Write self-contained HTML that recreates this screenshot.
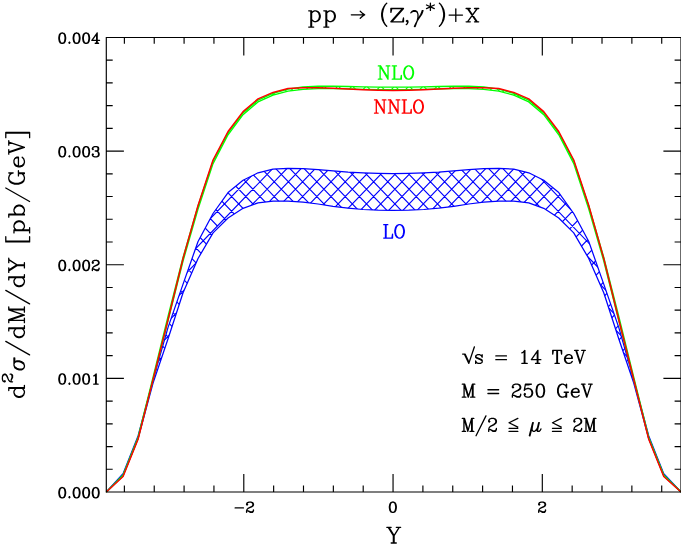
<!DOCTYPE html>
<html><head><meta charset="utf-8"><title>pp to (Z,gamma*)+X rapidity distribution</title>
<style>html,body{margin:0;padding:0;background:#fff;font-family:"Liberation Sans",sans-serif}svg{display:block}</style>
</head><body>
<svg width="681" height="545" viewBox="0 0 681 545">
<rect width="681" height="545" fill="#fff"/>
<defs>
<clipPath id="cb"><polygon points="106.3,492 123.05,473.7 138.05,436 153.05,380 168.05,327.4 183.05,284.1 198.05,241.5 213.05,213.5 228.05,192.6 243.05,180.3 258.05,172.8 273.05,169.1 288.05,168.3 303.05,168.7 318.05,169.6 333.05,170.9 348.05,172.1 363.05,172.9 378.05,173.4 393.05,173.6 408.75,173.4 423.75,172.9 438.75,172.1 453.75,170.9 468.75,169.6 483.75,168.7 498.75,168.3 513.75,169.1 528.75,172.8 543.75,180.3 558.75,192.6 573.75,213.5 588.75,241.5 603.75,284.1 618.75,327.4 633.75,380 648.75,436 663.75,473.7 681,492 681,492 663.75,475.5 648.75,438.5 633.75,383 618.75,338.7 603.75,292.8 588.75,258.5 573.75,232.9 558.75,218 543.75,208.3 528.75,202.8 513.75,201.2 498.75,201.2 483.75,202.2 468.75,204 453.75,206.3 438.75,208.2 423.75,209.5 408.75,210.2 393.05,210.4 378.05,210.2 363.05,209.5 348.05,208.2 333.05,206.3 318.05,204 303.05,202.2 288.05,201.2 273.05,201.2 258.05,202.8 243.05,208.3 228.05,218 213.05,232.9 198.05,258.5 183.05,292.8 168.05,338.7 153.05,383 138.05,438.5 123.05,475.5 106.3,492"/></clipPath>
<clipPath id="cg"><polygon points="106.3,492 123.05,474.9 138.05,437.4 153.05,377.5 168.05,316.5 183.05,257.5 198.05,206 213.05,161.2 228.05,132.8 243.05,112.9 258.05,100.1 273.05,93.4 288.05,89.1 303.05,86.9 318.05,86.1 333.05,86.2 348.05,86.5 363.05,86.85 378.05,87.1 393.05,87.15 408.75,87.1 423.75,86.85 438.75,86.5 453.75,86.2 468.75,86.1 483.75,86.9 498.75,89.1 513.75,93.4 528.75,100.1 543.75,112.9 558.75,132.8 573.75,161.2 588.75,206 603.75,257.5 618.75,316.5 633.75,377.5 648.75,437.4 663.75,474.9 681,492 681,492 663.75,475.7 648.75,438.6 633.75,380.1 618.75,320.5 603.75,261 588.75,209.1 573.75,163.6 558.75,134.8 543.75,114.7 528.75,101.9 513.75,95.2 498.75,91.1 483.75,89.4 468.75,88.6 453.75,88.6 438.75,88.9 423.75,89.3 408.75,89.6 393.05,89.7 378.05,89.6 363.05,89.3 348.05,88.9 333.05,88.6 318.05,88.6 303.05,89.4 288.05,91.1 273.05,95.2 258.05,101.9 243.05,114.7 228.05,134.8 213.05,163.6 198.05,209.1 183.05,261 168.05,320.5 153.05,380.1 138.05,438.6 123.05,475.7 106.3,492"/></clipPath>
</defs>
<g fill="none" stroke="#00f" stroke-width="1.15" stroke-linejoin="round">
<path clip-path="url(#cb)" d="M-215.36 160L111.88 500M-201.16 160L126.08 500M-186.96 160L140.28 500M-172.76 160L154.48 500M-158.56 160L168.68 500M-144.36 160L182.88 500M-130.16 160L197.08 500M-115.96 160L211.28 500M-101.76 160L225.48 500M-87.56 160L239.68 500M-73.36 160L253.88 500M-59.16 160L268.08 500M-44.96 160L282.28 500M-30.76 160L296.48 500M-16.56 160L310.68 500M-2.36 160L324.88 500M11.84 160L339.08 500M26.04 160L353.28 500M40.24 160L367.48 500M54.44 160L381.68 500M68.64 160L395.88 500M82.84 160L410.08 500M110.56 160L-216.68 500M97.04 160L424.28 500M124.76 160L-202.48 500M111.24 160L438.48 500M138.96 160L-188.28 500M125.44 160L452.68 500M153.16 160L-174.08 500M139.64 160L466.88 500M167.36 160L-159.88 500M153.84 160L481.08 500M181.56 160L-145.68 500M168.04 160L495.28 500M195.76 160L-131.48 500M182.24 160L509.48 500M209.96 160L-117.28 500M196.44 160L523.68 500M224.16 160L-103.08 500M210.64 160L537.88 500M238.36 160L-88.88 500M224.84 160L552.08 500M252.56 160L-74.68 500M239.04 160L566.28 500M266.76 160L-60.48 500M253.24 160L580.48 500M280.96 160L-46.28 500M267.44 160L594.68 500M295.16 160L-32.08 500M281.64 160L608.88 500M309.36 160L-17.88 500M295.84 160L623.08 500M323.56 160L-3.68 500M310.04 160L637.28 500M337.76 160L10.52 500M324.24 160L651.48 500M351.96 160L24.72 500M338.44 160L665.68 500M366.16 160L38.92 500M352.64 160L679.88 500M380.36 160L53.12 500M366.84 160L694.08 500M394.56 160L67.32 500M381.04 160L708.28 500M408.76 160L81.52 500M395.24 160L722.48 500M422.96 160L95.72 500M409.44 160L736.68 500M437.16 160L109.92 500M423.64 160L750.88 500M451.36 160L124.12 500M437.84 160L765.08 500M465.56 160L138.32 500M452.04 160L779.28 500M479.76 160L152.52 500M466.24 160L793.48 500M493.96 160L166.72 500M480.44 160L807.68 500M508.16 160L180.92 500M494.64 160L821.88 500M522.36 160L195.12 500M508.84 160L836.08 500M536.56 160L209.32 500M523.04 160L850.28 500M550.76 160L223.52 500M537.24 160L864.48 500M564.96 160L237.72 500M551.44 160L878.68 500M579.16 160L251.92 500M565.64 160L892.88 500M593.36 160L266.12 500M579.84 160L907.08 500M607.56 160L280.32 500M594.04 160L921.28 500M621.76 160L294.52 500M608.24 160L935.48 500M635.96 160L308.72 500M622.44 160L949.68 500M650.16 160L322.92 500M636.64 160L963.88 500M664.36 160L337.12 500M650.84 160L978.08 500M678.56 160L351.32 500M665.04 160L992.28 500M692.76 160L365.52 500M679.24 160L1006.48 500M706.96 160L379.72 500M721.16 160L393.92 500M735.36 160L408.12 500M749.56 160L422.32 500M763.76 160L436.52 500M777.96 160L450.72 500M792.16 160L464.92 500M806.36 160L479.12 500M820.56 160L493.32 500M834.76 160L507.52 500M848.96 160L521.72 500M863.16 160L535.92 500M877.36 160L550.12 500M891.56 160L564.32 500M905.76 160L578.52 500M919.96 160L592.72 500M934.16 160L606.92 500M948.36 160L621.12 500M962.56 160L635.32 500M976.76 160L649.52 500M990.96 160L663.72 500M1005.16 160L677.92 500"/>
<polyline stroke-width="1.25" points="106.3,492 123.05,473.7 138.05,436 153.05,380 168.05,327.4 183.05,284.1 198.05,241.5 213.05,213.5 228.05,192.6 243.05,180.3 258.05,172.8 273.05,169.1 288.05,168.3 303.05,168.7 318.05,169.6 333.05,170.9 348.05,172.1 363.05,172.9 378.05,173.4 393.05,173.6 408.75,173.4 423.75,172.9 438.75,172.1 453.75,170.9 468.75,169.6 483.75,168.7 498.75,168.3 513.75,169.1 528.75,172.8 543.75,180.3 558.75,192.6 573.75,213.5 588.75,241.5 603.75,284.1 618.75,327.4 633.75,380 648.75,436 663.75,473.7 681,492"/>
<polyline stroke-width="1.25" points="106.3,492 123.05,475.5 138.05,438.5 153.05,383 168.05,338.7 183.05,292.8 198.05,258.5 213.05,232.9 228.05,218 243.05,208.3 258.05,202.8 273.05,201.2 288.05,201.2 303.05,202.2 318.05,204 333.05,206.3 348.05,208.2 363.05,209.5 378.05,210.2 393.05,210.4 408.75,210.2 423.75,209.5 438.75,208.2 453.75,206.3 468.75,204 483.75,202.2 498.75,201.2 513.75,201.2 528.75,202.8 543.75,208.3 558.75,218 573.75,232.9 588.75,258.5 603.75,292.8 618.75,338.7 633.75,383 648.75,438.5 663.75,475.5 681,492"/>
</g>
<g fill="none" stroke="#0f0" stroke-width="1.1" stroke-linejoin="round">
<path clip-path="url(#cg)" d="M-292.36 80L111.88 500M-278.16 80L126.08 500M-263.96 80L140.28 500M-249.76 80L154.48 500M-235.56 80L168.68 500M-221.36 80L182.88 500M-207.16 80L197.08 500M-192.96 80L211.28 500M-178.76 80L225.48 500M-164.56 80L239.68 500M-150.36 80L253.88 500M-136.16 80L268.08 500M-121.96 80L282.28 500M-107.76 80L296.48 500M-93.56 80L310.68 500M-79.36 80L324.88 500M102.36 80L-301.88 500M-65.16 80L339.08 500M116.56 80L-287.68 500M-50.96 80L353.28 500M130.76 80L-273.48 500M-36.76 80L367.48 500M144.96 80L-259.28 500M-22.56 80L381.68 500M159.16 80L-245.08 500M-8.36 80L395.88 500M173.36 80L-230.88 500M5.84 80L410.08 500M187.56 80L-216.68 500M20.04 80L424.28 500M201.76 80L-202.48 500M34.24 80L438.48 500M215.96 80L-188.28 500M48.44 80L452.68 500M230.16 80L-174.08 500M62.64 80L466.88 500M244.36 80L-159.88 500M76.84 80L481.08 500M258.56 80L-145.68 500M91.04 80L495.28 500M272.76 80L-131.48 500M105.24 80L509.48 500M286.96 80L-117.28 500M119.44 80L523.68 500M301.16 80L-103.08 500M133.64 80L537.88 500M315.36 80L-88.88 500M147.84 80L552.08 500M329.56 80L-74.68 500M162.04 80L566.28 500M343.76 80L-60.48 500M176.24 80L580.48 500M357.96 80L-46.28 500M190.44 80L594.68 500M372.16 80L-32.08 500M204.64 80L608.88 500M386.36 80L-17.88 500M218.84 80L623.08 500M400.56 80L-3.68 500M233.04 80L637.28 500M414.76 80L10.52 500M247.24 80L651.48 500M428.96 80L24.72 500M261.44 80L665.68 500M443.16 80L38.92 500M275.64 80L679.88 500M457.36 80L53.12 500M289.84 80L694.08 500M471.56 80L67.32 500M304.04 80L708.28 500M485.76 80L81.52 500M318.24 80L722.48 500M499.96 80L95.72 500M332.44 80L736.68 500M514.16 80L109.92 500M346.64 80L750.88 500M528.36 80L124.12 500M360.84 80L765.08 500M542.56 80L138.32 500M375.04 80L779.28 500M556.76 80L152.52 500M389.24 80L793.48 500M570.96 80L166.72 500M403.44 80L807.68 500M585.16 80L180.92 500M417.64 80L821.88 500M599.36 80L195.12 500M431.84 80L836.08 500M613.56 80L209.32 500M446.04 80L850.28 500M627.76 80L223.52 500M460.24 80L864.48 500M641.96 80L237.72 500M474.44 80L878.68 500M656.16 80L251.92 500M488.64 80L892.88 500M670.36 80L266.12 500M502.84 80L907.08 500M684.56 80L280.32 500M517.04 80L921.28 500M698.76 80L294.52 500M531.24 80L935.48 500M712.96 80L308.72 500M545.44 80L949.68 500M727.16 80L322.92 500M559.64 80L963.88 500M741.36 80L337.12 500M573.84 80L978.08 500M755.56 80L351.32 500M588.04 80L992.28 500M769.76 80L365.52 500M602.24 80L1006.48 500M783.96 80L379.72 500M616.44 80L1020.68 500M798.16 80L393.92 500M630.64 80L1034.88 500M812.36 80L408.12 500M644.84 80L1049.08 500M826.56 80L422.32 500M659.04 80L1063.28 500M840.76 80L436.52 500M673.24 80L1077.48 500M854.96 80L450.72 500M687.44 80L1091.68 500M869.16 80L464.92 500M883.36 80L479.12 500M897.56 80L493.32 500M911.76 80L507.52 500M925.96 80L521.72 500M940.16 80L535.92 500M954.36 80L550.12 500M968.56 80L564.32 500M982.76 80L578.52 500M996.96 80L592.72 500M1011.16 80L606.92 500M1025.36 80L621.12 500M1039.56 80L635.32 500M1053.76 80L649.52 500M1067.96 80L663.72 500M1082.16 80L677.92 500"/>
<polyline stroke-width="1.4" points="106.3,492 123.05,474.9 138.05,437.4 153.05,377.5 168.05,316.5 183.05,257.5 198.05,206 213.05,161.2 228.05,132.8 243.05,112.9 258.05,100.1 273.05,93.4 288.05,89.1 303.05,86.9 318.05,86.1 333.05,86.2 348.05,86.5 363.05,86.85 378.05,87.1 393.05,87.15 408.75,87.1 423.75,86.85 438.75,86.5 453.75,86.2 468.75,86.1 483.75,86.9 498.75,89.1 513.75,93.4 528.75,100.1 543.75,112.9 558.75,132.8 573.75,161.2 588.75,206 603.75,257.5 618.75,316.5 633.75,377.5 648.75,437.4 663.75,474.9 681,492"/>
<polyline stroke-width="1.3" points="106.3,492 123.05,475.7 138.05,438.6 153.05,380.1 168.05,320.5 183.05,261 198.05,209.1 213.05,163.6 228.05,134.8 243.05,114.7 258.05,101.9 273.05,95.2 288.05,91.1 303.05,89.4 318.05,88.6 333.05,88.6 348.05,88.9 363.05,89.3 378.05,89.6 393.05,89.7 408.75,89.6 423.75,89.3 438.75,88.9 453.75,88.6 468.75,88.6 483.75,89.4 498.75,91.1 513.75,95.2 528.75,101.9 543.75,114.7 558.75,134.8 573.75,163.6 588.75,209.1 603.75,261 618.75,320.5 633.75,380.1 648.75,438.6 663.75,475.7 681,492"/>
</g>
<polyline fill="none" stroke="#f00" stroke-width="1.5" stroke-linejoin="round" points="106.3,492 123.05,476.5 138.05,439.2 153.05,379.5 168.05,319.5 183.05,258.5 198.05,205.5 213.05,160 228.05,131.5 243.05,111.6 258.05,98.9 273.05,92.4 288.05,88.6 303.05,87.7 318.05,87.7 333.05,88.3 348.05,89.1 363.05,89.8 378.05,90.3 393.05,90.5 408.75,90.3 423.75,89.8 438.75,89.1 453.75,88.3 468.75,87.7 483.75,87.7 498.75,88.6 513.75,92.4 528.75,98.9 543.75,111.6 558.75,131.5 573.75,160 588.75,205.5 603.75,258.5 618.75,319.5 633.75,379.5 648.75,439.2 663.75,476.5 681,492"/>
<path fill="none" stroke="#000" stroke-width="1.15" stroke-linecap="butt" d="M106.3 37.45H681V492H106.3ZM124.38 492v-6.4M124.38 37.45v6.4M154.23 492v-6.4M154.23 37.45v6.4M184.09 492v-6.4M184.09 37.45v6.4M213.94 492v-6.4M213.94 37.45v6.4M243.79 492v-18M243.79 37.45v18M273.64 492v-6.4M273.64 37.45v6.4M303.49 492v-6.4M303.49 37.45v6.4M333.35 492v-6.4M333.35 37.45v6.4M363.2 492v-6.4M363.2 37.45v6.4M393.05 492v-18M393.05 37.45v18M422.9 492v-6.4M422.9 37.45v6.4M452.75 492v-6.4M452.75 37.45v6.4M482.61 492v-6.4M482.61 37.45v6.4M512.46 492v-6.4M512.46 37.45v6.4M542.31 492v-18M542.31 37.45v18M572.16 492v-6.4M572.16 37.45v6.4M602.01 492v-6.4M602.01 37.45v6.4M631.87 492v-6.4M631.87 37.45v6.4M661.72 492v-6.4M661.72 37.45v6.4M106.3 469.27h6.4M681 469.27h-6.4M106.3 446.55h6.4M681 446.55h-6.4M106.3 423.82h6.4M681 423.82h-6.4M106.3 401.09h6.4M681 401.09h-6.4M106.3 378.36h17.6M681 378.36h-17.6M106.3 355.63h6.4M681 355.63h-6.4M106.3 332.91h6.4M681 332.91h-6.4M106.3 310.18h6.4M681 310.18h-6.4M106.3 287.45h6.4M681 287.45h-6.4M106.3 264.73h17.6M681 264.73h-17.6M106.3 242h6.4M681 242h-6.4M106.3 219.27h6.4M681 219.27h-6.4M106.3 196.54h6.4M681 196.54h-6.4M106.3 173.81h6.4M681 173.81h-6.4M106.3 151.09h17.6M681 151.09h-17.6M106.3 128.36h6.4M681 128.36h-6.4M106.3 105.63h6.4M681 105.63h-6.4M106.3 82.9h6.4M681 82.9h-6.4M106.3 60.18h6.4M681 60.18h-6.4"/>
<path fill="none" stroke="#000" stroke-width="1.35" stroke-linecap="round" stroke-linejoin="round" d="M61.77 487.57 L60.33 488.06 L59.38 489.52 L58.9 491.96 L58.9 493.42 L59.38 495.85 L60.33 497.31 L61.77 497.8 L62.72 497.8 L64.16 497.31 L65.11 495.85 L65.59 493.42 L65.59 491.96 L65.11 489.52 L64.16 488.06 L62.72 487.57 L61.77 487.57 M61.77 487.57 L60.81 488.06 L60.33 488.55 L59.86 489.52 L59.38 491.96 L59.38 493.42 L59.86 495.85 L60.33 496.83 L60.81 497.31 L61.77 497.8 M62.72 497.8 L63.68 497.31 L64.16 496.83 L64.64 495.85 L65.11 493.42 L65.11 491.96 L64.64 489.52 L64.16 488.55 L63.68 488.06 L62.72 487.57 M69.42 496.83 L68.94 497.31 L69.42 497.8 L69.89 497.31 L69.42 496.83 M76.11 487.57 L74.67 488.06 L73.72 489.52 L73.24 491.96 L73.24 493.42 L73.72 495.85 L74.67 497.31 L76.11 497.8 L77.06 497.8 L78.5 497.31 L79.45 495.85 L79.93 493.42 L79.93 491.96 L79.45 489.52 L78.5 488.06 L77.06 487.57 L76.11 487.57 M76.11 487.57 L75.15 488.06 L74.67 488.55 L74.2 489.52 L73.72 491.96 L73.72 493.42 L74.2 495.85 L74.67 496.83 L75.15 497.31 L76.11 497.8 M77.06 497.8 L78.02 497.31 L78.5 496.83 L78.98 495.85 L79.45 493.42 L79.45 491.96 L78.98 489.52 L78.5 488.55 L78.02 488.06 L77.06 487.57 M85.67 487.57 L84.23 488.06 L83.28 489.52 L82.8 491.96 L82.8 493.42 L83.28 495.85 L84.23 497.31 L85.67 497.8 L86.62 497.8 L88.06 497.31 L89.01 495.85 L89.49 493.42 L89.49 491.96 L89.01 489.52 L88.06 488.06 L86.62 487.57 L85.67 487.57 M85.67 487.57 L84.71 488.06 L84.23 488.55 L83.76 489.52 L83.28 491.96 L83.28 493.42 L83.76 495.85 L84.23 496.83 L84.71 497.31 L85.67 497.8 M86.62 497.8 L87.58 497.31 L88.06 496.83 L88.54 495.85 L89.01 493.42 L89.01 491.96 L88.54 489.52 L88.06 488.55 L87.58 488.06 L86.62 487.57 M95.23 487.57 L93.79 488.06 L92.84 489.52 L92.36 491.96 L92.36 493.42 L92.84 495.85 L93.79 497.31 L95.23 497.8 L96.18 497.8 L97.62 497.31 L98.57 495.85 L99.05 493.42 L99.05 491.96 L98.57 489.52 L97.62 488.06 L96.18 487.57 L95.23 487.57 M95.23 487.57 L94.27 488.06 L93.79 488.55 L93.32 489.52 L92.84 491.96 L92.84 493.42 L93.32 495.85 L93.79 496.83 L94.27 497.31 L95.23 497.8 M96.18 497.8 L97.14 497.31 L97.62 496.83 L98.1 495.85 L98.57 493.42 L98.57 491.96 L98.1 489.52 L97.62 488.55 L97.14 488.06 L96.18 487.57"/>
<path fill="none" stroke="#000" stroke-width="1.35" stroke-linecap="round" stroke-linejoin="round" d="M61.77 373.94 L60.33 374.42 L59.38 375.88 L58.9 378.32 L58.9 379.78 L59.38 382.21 L60.33 383.68 L61.77 384.16 L62.72 384.16 L64.16 383.68 L65.11 382.21 L65.59 379.78 L65.59 378.32 L65.11 375.88 L64.16 374.42 L62.72 373.94 L61.77 373.94 M61.77 373.94 L60.81 374.42 L60.33 374.91 L59.86 375.88 L59.38 378.32 L59.38 379.78 L59.86 382.21 L60.33 383.19 L60.81 383.68 L61.77 384.16 M62.72 384.16 L63.68 383.68 L64.16 383.19 L64.64 382.21 L65.11 379.78 L65.11 378.32 L64.64 375.88 L64.16 374.91 L63.68 374.42 L62.72 373.94 M69.42 383.19 L68.94 383.68 L69.42 384.16 L69.89 383.68 L69.42 383.19 M76.11 373.94 L74.67 374.42 L73.72 375.88 L73.24 378.32 L73.24 379.78 L73.72 382.21 L74.67 383.68 L76.11 384.16 L77.06 384.16 L78.5 383.68 L79.45 382.21 L79.93 379.78 L79.93 378.32 L79.45 375.88 L78.5 374.42 L77.06 373.94 L76.11 373.94 M76.11 373.94 L75.15 374.42 L74.67 374.91 L74.2 375.88 L73.72 378.32 L73.72 379.78 L74.2 382.21 L74.67 383.19 L75.15 383.68 L76.11 384.16 M77.06 384.16 L78.02 383.68 L78.5 383.19 L78.98 382.21 L79.45 379.78 L79.45 378.32 L78.98 375.88 L78.5 374.91 L78.02 374.42 L77.06 373.94 M85.67 373.94 L84.23 374.42 L83.28 375.88 L82.8 378.32 L82.8 379.78 L83.28 382.21 L84.23 383.68 L85.67 384.16 L86.62 384.16 L88.06 383.68 L89.01 382.21 L89.49 379.78 L89.49 378.32 L89.01 375.88 L88.06 374.42 L86.62 373.94 L85.67 373.94 M85.67 373.94 L84.71 374.42 L84.23 374.91 L83.76 375.88 L83.28 378.32 L83.28 379.78 L83.76 382.21 L84.23 383.19 L84.71 383.68 L85.67 384.16 M86.62 384.16 L87.58 383.68 L88.06 383.19 L88.54 382.21 L89.01 379.78 L89.01 378.32 L88.54 375.88 L88.06 374.91 L87.58 374.42 L86.62 373.94 M93.79 375.88 L94.75 375.4 L96.18 373.94 L96.18 384.16 M95.71 374.42 L95.71 384.16 M93.79 384.16 L98.1 384.16"/>
<path fill="none" stroke="#000" stroke-width="1.35" stroke-linecap="round" stroke-linejoin="round" d="M61.77 260.3 L60.33 260.79 L59.38 262.25 L58.9 264.68 L58.9 266.14 L59.38 268.58 L60.33 270.04 L61.77 270.53 L62.72 270.53 L64.16 270.04 L65.11 268.58 L65.59 266.14 L65.59 264.68 L65.11 262.25 L64.16 260.79 L62.72 260.3 L61.77 260.3 M61.77 260.3 L60.81 260.79 L60.33 261.27 L59.86 262.25 L59.38 264.68 L59.38 266.14 L59.86 268.58 L60.33 269.55 L60.81 270.04 L61.77 270.53 M62.72 270.53 L63.68 270.04 L64.16 269.55 L64.64 268.58 L65.11 266.14 L65.11 264.68 L64.64 262.25 L64.16 261.27 L63.68 260.79 L62.72 260.3 M69.42 269.55 L68.94 270.04 L69.42 270.53 L69.89 270.04 L69.42 269.55 M76.11 260.3 L74.67 260.79 L73.72 262.25 L73.24 264.68 L73.24 266.14 L73.72 268.58 L74.67 270.04 L76.11 270.53 L77.06 270.53 L78.5 270.04 L79.45 268.58 L79.93 266.14 L79.93 264.68 L79.45 262.25 L78.5 260.79 L77.06 260.3 L76.11 260.3 M76.11 260.3 L75.15 260.79 L74.67 261.27 L74.2 262.25 L73.72 264.68 L73.72 266.14 L74.2 268.58 L74.67 269.55 L75.15 270.04 L76.11 270.53 M77.06 270.53 L78.02 270.04 L78.5 269.55 L78.98 268.58 L79.45 266.14 L79.45 264.68 L78.98 262.25 L78.5 261.27 L78.02 260.79 L77.06 260.3 M85.67 260.3 L84.23 260.79 L83.28 262.25 L82.8 264.68 L82.8 266.14 L83.28 268.58 L84.23 270.04 L85.67 270.53 L86.62 270.53 L88.06 270.04 L89.01 268.58 L89.49 266.14 L89.49 264.68 L89.01 262.25 L88.06 260.79 L86.62 260.3 L85.67 260.3 M85.67 260.3 L84.71 260.79 L84.23 261.27 L83.76 262.25 L83.28 264.68 L83.28 266.14 L83.76 268.58 L84.23 269.55 L84.71 270.04 L85.67 270.53 M86.62 270.53 L87.58 270.04 L88.06 269.55 L88.54 268.58 L89.01 266.14 L89.01 264.68 L88.54 262.25 L88.06 261.27 L87.58 260.79 L86.62 260.3 M92.84 262.25 L93.32 262.73 L92.84 263.22 L92.36 262.73 L92.36 262.25 L92.84 261.27 L93.32 260.79 L94.75 260.3 L96.66 260.3 L98.1 260.79 L98.57 261.27 L99.05 262.25 L99.05 263.22 L98.57 264.19 L97.14 265.17 L94.75 266.14 L93.79 266.63 L92.84 267.6 L92.36 269.06 L92.36 270.53 M96.66 260.3 L97.62 260.79 L98.1 261.27 L98.57 262.25 L98.57 263.22 L98.1 264.19 L96.66 265.17 L94.75 266.14 M92.36 269.55 L92.84 269.06 L93.79 269.06 L96.18 270.04 L97.62 270.04 L98.57 269.55 L99.05 269.06 M93.79 269.06 L96.18 270.53 L98.1 270.53 L98.57 270.04 L99.05 269.06 L99.05 268.09"/>
<path fill="none" stroke="#000" stroke-width="1.35" stroke-linecap="round" stroke-linejoin="round" d="M61.77 146.66 L60.33 147.15 L59.38 148.61 L58.9 151.04 L58.9 152.5 L59.38 154.94 L60.33 156.4 L61.77 156.89 L62.72 156.89 L64.16 156.4 L65.11 154.94 L65.59 152.5 L65.59 151.04 L65.11 148.61 L64.16 147.15 L62.72 146.66 L61.77 146.66 M61.77 146.66 L60.81 147.15 L60.33 147.63 L59.86 148.61 L59.38 151.04 L59.38 152.5 L59.86 154.94 L60.33 155.91 L60.81 156.4 L61.77 156.89 M62.72 156.89 L63.68 156.4 L64.16 155.91 L64.64 154.94 L65.11 152.5 L65.11 151.04 L64.64 148.61 L64.16 147.63 L63.68 147.15 L62.72 146.66 M69.42 155.91 L68.94 156.4 L69.42 156.89 L69.89 156.4 L69.42 155.91 M76.11 146.66 L74.67 147.15 L73.72 148.61 L73.24 151.04 L73.24 152.5 L73.72 154.94 L74.67 156.4 L76.11 156.89 L77.06 156.89 L78.5 156.4 L79.45 154.94 L79.93 152.5 L79.93 151.04 L79.45 148.61 L78.5 147.15 L77.06 146.66 L76.11 146.66 M76.11 146.66 L75.15 147.15 L74.67 147.63 L74.2 148.61 L73.72 151.04 L73.72 152.5 L74.2 154.94 L74.67 155.91 L75.15 156.4 L76.11 156.89 M77.06 156.89 L78.02 156.4 L78.5 155.91 L78.98 154.94 L79.45 152.5 L79.45 151.04 L78.98 148.61 L78.5 147.63 L78.02 147.15 L77.06 146.66 M85.67 146.66 L84.23 147.15 L83.28 148.61 L82.8 151.04 L82.8 152.5 L83.28 154.94 L84.23 156.4 L85.67 156.89 L86.62 156.89 L88.06 156.4 L89.01 154.94 L89.49 152.5 L89.49 151.04 L89.01 148.61 L88.06 147.15 L86.62 146.66 L85.67 146.66 M85.67 146.66 L84.71 147.15 L84.23 147.63 L83.76 148.61 L83.28 151.04 L83.28 152.5 L83.76 154.94 L84.23 155.91 L84.71 156.4 L85.67 156.89 M86.62 156.89 L87.58 156.4 L88.06 155.91 L88.54 154.94 L89.01 152.5 L89.01 151.04 L88.54 148.61 L88.06 147.63 L87.58 147.15 L86.62 146.66 M92.84 148.61 L93.32 149.1 L92.84 149.58 L92.36 149.1 L92.36 148.61 L92.84 147.63 L93.32 147.15 L94.75 146.66 L96.66 146.66 L98.1 147.15 L98.57 148.12 L98.57 149.58 L98.1 150.56 L96.66 151.04 L95.23 151.04 M96.66 146.66 L97.62 147.15 L98.1 148.12 L98.1 149.58 L97.62 150.56 L96.66 151.04 M96.66 151.04 L97.62 151.53 L98.57 152.5 L99.05 153.48 L99.05 154.94 L98.57 155.91 L98.1 156.4 L96.66 156.89 L94.75 156.89 L93.32 156.4 L92.84 155.91 L92.36 154.94 L92.36 154.45 L92.84 153.97 L93.32 154.45 L92.84 154.94 M98.1 152.02 L98.57 153.48 L98.57 154.94 L98.1 155.91 L97.62 156.4 L96.66 156.89"/>
<path fill="none" stroke="#000" stroke-width="1.35" stroke-linecap="round" stroke-linejoin="round" d="M61.77 33.02 L60.33 33.51 L59.38 34.97 L58.9 37.41 L58.9 38.87 L59.38 41.3 L60.33 42.76 L61.77 43.25 L62.72 43.25 L64.16 42.76 L65.11 41.3 L65.59 38.87 L65.59 37.41 L65.11 34.97 L64.16 33.51 L62.72 33.02 L61.77 33.02 M61.77 33.02 L60.81 33.51 L60.33 34 L59.86 34.97 L59.38 37.41 L59.38 38.87 L59.86 41.3 L60.33 42.28 L60.81 42.76 L61.77 43.25 M62.72 43.25 L63.68 42.76 L64.16 42.28 L64.64 41.3 L65.11 38.87 L65.11 37.41 L64.64 34.97 L64.16 34 L63.68 33.51 L62.72 33.02 M69.42 42.28 L68.94 42.76 L69.42 43.25 L69.89 42.76 L69.42 42.28 M76.11 33.02 L74.67 33.51 L73.72 34.97 L73.24 37.41 L73.24 38.87 L73.72 41.3 L74.67 42.76 L76.11 43.25 L77.06 43.25 L78.5 42.76 L79.45 41.3 L79.93 38.87 L79.93 37.41 L79.45 34.97 L78.5 33.51 L77.06 33.02 L76.11 33.02 M76.11 33.02 L75.15 33.51 L74.67 34 L74.2 34.97 L73.72 37.41 L73.72 38.87 L74.2 41.3 L74.67 42.28 L75.15 42.76 L76.11 43.25 M77.06 43.25 L78.02 42.76 L78.5 42.28 L78.98 41.3 L79.45 38.87 L79.45 37.41 L78.98 34.97 L78.5 34 L78.02 33.51 L77.06 33.02 M85.67 33.02 L84.23 33.51 L83.28 34.97 L82.8 37.41 L82.8 38.87 L83.28 41.3 L84.23 42.76 L85.67 43.25 L86.62 43.25 L88.06 42.76 L89.01 41.3 L89.49 38.87 L89.49 37.41 L89.01 34.97 L88.06 33.51 L86.62 33.02 L85.67 33.02 M85.67 33.02 L84.71 33.51 L84.23 34 L83.76 34.97 L83.28 37.41 L83.28 38.87 L83.76 41.3 L84.23 42.28 L84.71 42.76 L85.67 43.25 M86.62 43.25 L87.58 42.76 L88.06 42.28 L88.54 41.3 L89.01 38.87 L89.01 37.41 L88.54 34.97 L88.06 34 L87.58 33.51 L86.62 33.02 M96.66 34 L96.66 43.25 M97.14 33.02 L97.14 43.25 M97.14 33.02 L91.88 40.33 L99.53 40.33 M95.23 43.25 L98.57 43.25"/>
<path fill="none" stroke="#000" stroke-width="1.35" stroke-linecap="round" stroke-linejoin="round" d="M392.36 502.07 L390.9 502.56 L389.93 504.02 L389.44 506.46 L389.44 507.92 L389.93 510.35 L390.9 511.81 L392.36 512.3 L393.34 512.3 L394.8 511.81 L395.77 510.35 L396.26 507.92 L396.26 506.46 L395.77 504.02 L394.8 502.56 L393.34 502.07 L392.36 502.07 M392.36 502.07 L391.39 502.56 L390.9 503.05 L390.41 504.02 L389.93 506.46 L389.93 507.92 L390.41 510.35 L390.9 511.33 L391.39 511.81 L392.36 512.3 M393.34 512.3 L394.31 511.81 L394.8 511.33 L395.28 510.35 L395.77 507.92 L395.77 506.46 L395.28 504.02 L394.8 503.05 L394.31 502.56 L393.34 502.07"/>
<path fill="none" stroke="#000" stroke-width="1.35" stroke-linecap="round" stroke-linejoin="round" d="M539.19 504.02 L539.67 504.51 L539.19 504.99 L538.7 504.51 L538.7 504.02 L539.19 503.05 L539.67 502.56 L541.13 502.07 L543.08 502.07 L544.54 502.56 L545.03 503.05 L545.52 504.02 L545.52 504.99 L545.03 505.97 L543.57 506.94 L541.13 507.92 L540.16 508.4 L539.19 509.38 L538.7 510.84 L538.7 512.3 M543.08 502.07 L544.06 502.56 L544.54 503.05 L545.03 504.02 L545.03 504.99 L544.54 505.97 L543.08 506.94 L541.13 507.92 M538.7 511.33 L539.19 510.84 L540.16 510.84 L542.6 511.81 L544.06 511.81 L545.03 511.33 L545.52 510.84 M540.16 510.84 L542.6 512.3 L544.54 512.3 L545.03 511.81 L545.52 510.84 L545.52 509.86"/>
<path fill="none" stroke="#000" stroke-width="1.35" stroke-linecap="round" stroke-linejoin="round" d="M235.15 507.92 L243.45 507.92"/>
<path fill="none" stroke="#000" stroke-width="1.35" stroke-linecap="round" stroke-linejoin="round" d="M247.09 504.02 L247.57 504.51 L247.09 504.99 L246.6 504.51 L246.6 504.02 L247.09 503.05 L247.57 502.56 L249.03 502.07 L250.98 502.07 L252.44 502.56 L252.93 503.05 L253.42 504.02 L253.42 504.99 L252.93 505.97 L251.47 506.94 L249.03 507.92 L248.06 508.4 L247.09 509.38 L246.6 510.84 L246.6 512.3 M250.98 502.07 L251.96 502.56 L252.44 503.05 L252.93 504.02 L252.93 504.99 L252.44 505.97 L250.98 506.94 L249.03 507.92 M246.6 511.33 L247.09 510.84 L248.06 510.84 L250.5 511.81 L251.96 511.81 L252.93 511.33 L253.42 510.84 M248.06 510.84 L250.5 512.3 L252.44 512.3 L252.93 511.81 L253.42 510.84 L253.42 509.86"/>
<path fill="none" stroke="#000" stroke-width="1.3" stroke-linecap="round" stroke-linejoin="round" d="M310.86 10.85 L310.86 27.12 M311.58 10.85 L311.58 27.12 M311.58 13.17 L313.01 11.62 L314.45 10.85 L315.89 10.85 L318.05 11.62 L319.48 13.17 L320.2 15.5 L320.2 17.05 L319.48 19.38 L318.05 20.93 L315.89 21.7 L314.45 21.7 L313.01 20.93 L311.58 19.38 M315.89 10.85 L317.33 11.62 L318.76 13.17 L319.48 15.5 L319.48 17.05 L318.76 19.38 L317.33 20.93 L315.89 21.7 M308.7 10.85 L311.58 10.85 M308.7 27.12 L313.73 27.12 M325.95 10.85 L325.95 27.12 M326.67 10.85 L326.67 27.12 M326.67 13.17 L328.11 11.62 L329.55 10.85 L330.99 10.85 L333.14 11.62 L334.58 13.17 L335.3 15.5 L335.3 17.05 L334.58 19.38 L333.14 20.93 L330.99 21.7 L329.55 21.7 L328.11 20.93 L326.67 19.38 M330.99 10.85 L332.42 11.62 L333.86 13.17 L334.58 15.5 L334.58 17.05 L333.86 19.38 L332.42 20.93 L330.99 21.7 M323.8 10.85 L326.67 10.85 M323.8 27.12 L328.83 27.12"/>
<path fill="none" stroke="#000" stroke-width="1.3" stroke-linecap="round" stroke-linejoin="round" d="M360.23 11.3 L362.47 13.4 L364.7 14.8 L362.47 16.2 L360.23 18.3 M351.3 14.8 L364.7 14.8"/>
<path fill="none" stroke="#000" stroke-width="1.3" stroke-linecap="round" stroke-linejoin="round" d="M386.74 3.2 L385.3 4.64 L383.86 6.8 L382.42 9.68 L381.7 13.28 L381.7 16.16 L382.42 19.76 L383.86 22.64 L385.3 24.8 L386.74 26.24 M385.3 4.64 L383.86 7.52 L383.14 9.68 L382.42 13.28 L382.42 16.16 L383.14 19.76 L383.86 21.92 L385.3 24.8"/>
<path fill="none" stroke="#000" stroke-width="1.3" stroke-linecap="round" stroke-linejoin="round" d="M402.6 8.51 L390.9 21.8 M403.5 8.51 L391.8 21.8 M391.8 8.51 L390.9 12.3 L390.9 8.51 L403.5 8.51 M390.9 21.8 L403.5 21.8 L403.5 18 L402.6 21.8"/>
<path fill="none" stroke="#000" stroke-width="1.3" stroke-linecap="round" stroke-linejoin="round" d="M407.1 21.8 L406.3 21.1 L407.1 20.4 L407.9 21.1 L407.9 22.5 L407.1 23.9 L406.3 24.6"/>
<path fill="none" stroke="#000" stroke-width="1.3" stroke-linecap="round" stroke-linejoin="round" d="M410.8 12.84 L412.24 11.32 L413.67 10.56 L415.11 10.56 L416.54 11.32 L417.26 12.08 L417.98 14.36 L417.98 17.4 L417.26 20.44 L415.11 26.52 M411.52 12.08 L412.95 11.32 L415.82 11.32 L417.26 12.08 M423 10.56 L422.28 12.84 L421.56 14.36 L417.98 19.68 L415.82 23.48 L414.39 26.52 M422.28 10.56 L421.56 12.84 L420.85 14.36 L417.98 19.68"/>
<path fill="none" stroke="#000" stroke-width="1.3" stroke-linecap="round" stroke-linejoin="round" d="M430.4 3.2 L430.4 10.4 M426.5 5 L434.3 8.6 M434.3 5 L426.5 8.6"/>
<path fill="none" stroke="#000" stroke-width="1.3" stroke-linecap="round" stroke-linejoin="round" d="M439.4 3.2 L440.84 4.64 L442.28 6.8 L443.72 9.68 L444.44 13.28 L444.44 16.16 L443.72 19.76 L442.28 22.64 L440.84 24.8 L439.4 26.24 M440.84 4.64 L442.28 7.52 L443 9.68 L443.72 13.28 L443.72 16.16 L443 19.76 L442.28 21.92 L440.84 24.8"/>
<path fill="none" stroke="#000" stroke-width="1.3" stroke-linecap="round" stroke-linejoin="round" d="M455.8 8.8 L455.8 21.4 M449.1 15.1 L462.5 15.1"/>
<path fill="none" stroke="#000" stroke-width="1.3" stroke-linecap="round" stroke-linejoin="round" d="M467.5 8.51 L476.6 21.8 M468.2 8.51 L477.3 21.8 M477.3 8.51 L467.5 21.8 M466.1 8.51 L470.3 8.51 M474.5 8.51 L478.7 8.51 M466.1 21.8 L470.3 21.8 M474.5 21.8 L478.7 21.8"/>
<path fill="none" stroke="#0f0" stroke-width="1.3" stroke-linecap="round" stroke-linejoin="round" d="M380.12 65.97 L380.12 79.2 M380.73 65.97 L388.01 77.94 M380.73 67.23 L388.01 79.2 M388.01 65.97 L388.01 79.2 M378.3 65.97 L380.73 65.97 M386.19 65.97 L389.83 65.97 M378.3 79.2 L381.94 79.2 M394.08 65.97 L394.08 79.2 M394.69 65.97 L394.69 79.2 M392.26 65.97 L396.51 65.97 M392.26 79.2 L401.36 79.2 L401.36 75.42 L400.76 79.2 M408.04 65.97 L406.22 66.6 L405 67.86 L404.4 69.12 L403.79 71.64 L403.79 73.53 L404.4 76.05 L405 77.31 L406.22 78.57 L408.04 79.2 L409.25 79.2 L411.07 78.57 L412.29 77.31 L412.89 76.05 L413.5 73.53 L413.5 71.64 L412.89 69.12 L412.29 67.86 L411.07 66.6 L409.25 65.97 L408.04 65.97 M408.04 65.97 L406.82 66.6 L405.61 67.86 L405 69.12 L404.4 71.64 L404.4 73.53 L405 76.05 L405.61 77.31 L406.82 78.57 L408.04 79.2 M409.25 79.2 L410.47 78.57 L411.68 77.31 L412.29 76.05 L412.89 73.53 L412.89 71.64 L412.29 69.12 L411.68 67.86 L410.47 66.6 L409.25 65.97"/>
<path fill="none" stroke="#f00" stroke-width="1.3" stroke-linecap="round" stroke-linejoin="round" d="M376.31 99.97 L376.31 113.2 M376.91 99.97 L384.14 111.94 M376.91 101.23 L384.14 113.2 M384.14 99.97 L384.14 113.2 M374.5 99.97 L376.91 99.97 M382.33 99.97 L385.95 99.97 M374.5 113.2 L378.11 113.2 M390.16 99.97 L390.16 113.2 M390.77 99.97 L398 111.94 M390.77 101.23 L398 113.2 M398 99.97 L398 113.2 M388.36 99.97 L390.77 99.97 M396.19 99.97 L399.8 99.97 M388.36 113.2 L391.97 113.2 M404.02 99.97 L404.02 113.2 M404.62 99.97 L404.62 113.2 M402.21 99.97 L406.43 99.97 M402.21 113.2 L411.25 113.2 L411.25 109.42 L410.65 113.2 M417.88 99.97 L416.07 100.6 L414.87 101.86 L414.26 103.12 L413.66 105.64 L413.66 107.53 L414.26 110.05 L414.87 111.31 L416.07 112.57 L417.88 113.2 L419.08 113.2 L420.89 112.57 L422.1 111.31 L422.7 110.05 L423.3 107.53 L423.3 105.64 L422.7 103.12 L422.1 101.86 L420.89 100.6 L419.08 99.97 L417.88 99.97 M417.88 99.97 L416.67 100.6 L415.47 101.86 L414.87 103.12 L414.26 105.64 L414.26 107.53 L414.87 110.05 L415.47 111.31 L416.67 112.57 L417.88 113.2 M419.08 113.2 L420.29 112.57 L421.49 111.31 L422.1 110.05 L422.7 107.53 L422.7 105.64 L422.1 103.12 L421.49 101.86 L420.29 100.6 L419.08 99.97"/>
<path fill="none" stroke="#00f" stroke-width="1.3" stroke-linecap="round" stroke-linejoin="round" d="M385.47 224.66 L385.47 238.1 M386.05 224.66 L386.05 238.1 M383.7 224.66 L387.82 224.66 M383.7 238.1 L392.53 238.1 L392.53 234.26 L391.94 238.1 M399 224.66 L397.24 225.3 L396.06 226.58 L395.47 227.86 L394.88 230.42 L394.88 232.34 L395.47 234.9 L396.06 236.18 L397.24 237.46 L399 238.1 L400.18 238.1 L401.95 237.46 L403.12 236.18 L403.71 234.9 L404.3 232.34 L404.3 230.42 L403.71 227.86 L403.12 226.58 L401.95 225.3 L400.18 224.66 L399 224.66 M399 224.66 L397.83 225.3 L396.65 226.58 L396.06 227.86 L395.47 230.42 L395.47 232.34 L396.06 234.9 L396.65 236.18 L397.83 237.46 L399 238.1 M400.18 238.1 L401.36 237.46 L402.53 236.18 L403.12 234.9 L403.71 232.34 L403.71 230.42 L403.12 227.86 L402.53 226.58 L401.36 225.3 L400.18 224.66"/>
<path fill="none" stroke="#000" stroke-width="1.3" stroke-linecap="round" stroke-linejoin="round" d="M462.6 354.11 L465.09 354.11 L468.82 362.07 M464.47 354.11 L468.82 363.4 M474.42 346.81 L468.82 363.4 M481.59 355.96 L482.19 354.72 L482.19 357.2 L481.59 355.96 L481 355.34 L479.82 354.72 L477.44 354.72 L476.26 355.34 L475.67 355.96 L475.67 357.2 L476.26 357.82 L477.44 358.44 L480.41 359.68 L481.59 360.3 L482.19 360.92 M475.67 356.58 L476.26 357.2 L477.44 357.82 L480.41 359.06 L481.59 359.68 L482.19 360.3 L482.19 362.16 L481.59 362.78 L480.41 363.4 L478.04 363.4 L476.85 362.78 L476.26 362.16 L475.67 360.92 L475.67 363.4 L476.26 362.16 M495.82 355.96 L506.48 355.96 M495.82 359.68 L506.48 359.68 M521.89 352.86 L523.08 352.24 L524.85 350.38 L524.85 363.4 M524.26 351 L524.26 363.4 M521.89 363.4 L527.22 363.4 M537.3 351.62 L537.3 363.4 M537.89 350.38 L537.89 363.4 M537.89 350.38 L531.37 359.68 L540.85 359.68 M535.52 363.4 L539.67 363.4 M556.85 350.38 L556.85 363.4 M557.45 350.38 L557.45 363.4 M553.3 350.38 L552.71 354.1 L552.71 350.38 L561.6 350.38 L561.6 354.1 L561 350.38 M555.08 363.4 L559.23 363.4 M565.15 358.44 L572.26 358.44 L572.26 357.2 L571.67 355.96 L571.08 355.34 L569.89 354.72 L568.11 354.72 L566.34 355.34 L565.15 356.58 L564.56 358.44 L564.56 359.68 L565.15 361.54 L566.34 362.78 L568.11 363.4 L569.3 363.4 L571.08 362.78 L572.26 361.54 M571.67 358.44 L571.67 356.58 L571.08 355.34 M568.11 354.72 L566.93 355.34 L565.74 356.58 L565.15 358.44 L565.15 359.68 L565.74 361.54 L566.93 362.78 L568.11 363.4 M575.82 350.38 L579.97 363.4 M576.41 350.38 L579.97 361.54 M584.11 350.38 L579.97 363.4 M574.63 350.38 L578.19 350.38 M581.74 350.38 L585.3 350.38"/>
<path fill="none" stroke="#000" stroke-width="1.3" stroke-linecap="round" stroke-linejoin="round" d="M464.09 384.18 L464.09 397.2 M464.68 384.18 L468.26 395.34 M464.09 384.18 L468.26 397.2 M472.43 384.18 L468.26 397.2 M472.43 384.18 L472.43 397.2 M473.03 384.18 L473.03 397.2 M462.3 384.18 L464.68 384.18 M472.43 384.18 L474.81 384.18 M462.3 397.2 L465.88 397.2 M470.64 397.2 L474.81 397.2 M487.92 389.76 L498.65 389.76 M487.92 393.48 L498.65 393.48 M512.95 386.66 L513.54 387.28 L512.95 387.9 L512.35 387.28 L512.35 386.66 L512.95 385.42 L513.54 384.8 L515.33 384.18 L517.72 384.18 L519.5 384.8 L520.1 385.42 L520.7 386.66 L520.7 387.9 L520.1 389.14 L518.31 390.38 L515.33 391.62 L514.14 392.24 L512.95 393.48 L512.35 395.34 L512.35 397.2 M517.72 384.18 L518.91 384.8 L519.5 385.42 L520.1 386.66 L520.1 387.9 L519.5 389.14 L517.72 390.38 L515.33 391.62 M512.35 395.96 L512.95 395.34 L514.14 395.34 L517.12 396.58 L518.91 396.58 L520.1 395.96 L520.7 395.34 M514.14 395.34 L517.12 397.2 L519.5 397.2 L520.1 396.58 L520.7 395.34 L520.7 394.1 M525.46 384.18 L524.27 390.38 M524.27 390.38 L525.46 389.14 L527.25 388.52 L529.04 388.52 L530.83 389.14 L532.02 390.38 L532.61 392.24 L532.61 393.48 L532.02 395.34 L530.83 396.58 L529.04 397.2 L527.25 397.2 L525.46 396.58 L524.87 395.96 L524.27 394.72 L524.27 394.1 L524.87 393.48 L525.46 394.1 L524.87 394.72 M529.04 388.52 L530.23 389.14 L531.42 390.38 L532.02 392.24 L532.02 393.48 L531.42 395.34 L530.23 396.58 L529.04 397.2 M525.46 384.18 L531.42 384.18 M525.46 384.8 L528.44 384.8 L531.42 384.18 M539.76 384.18 L537.98 384.8 L536.78 386.66 L536.19 389.76 L536.19 391.62 L536.78 394.72 L537.98 396.58 L539.76 397.2 L540.96 397.2 L542.74 396.58 L543.93 394.72 L544.53 391.62 L544.53 389.76 L543.93 386.66 L542.74 384.8 L540.96 384.18 L539.76 384.18 M539.76 384.18 L538.57 384.8 L537.98 385.42 L537.38 386.66 L536.78 389.76 L536.78 391.62 L537.38 394.72 L537.98 395.96 L538.57 396.58 L539.76 397.2 M540.96 397.2 L542.15 396.58 L542.74 395.96 L543.34 394.72 L543.93 391.62 L543.93 389.76 L543.34 386.66 L542.74 385.42 L542.15 384.8 L540.96 384.18 M565.98 386.04 L566.58 387.9 L566.58 384.18 L565.98 386.04 L564.79 384.8 L563 384.18 L561.81 384.18 L560.02 384.8 L558.83 386.04 L558.24 387.28 L557.64 389.14 L557.64 392.24 L558.24 394.1 L558.83 395.34 L560.02 396.58 L561.81 397.2 L563 397.2 L564.79 396.58 L565.98 395.34 M561.81 384.18 L560.62 384.8 L559.43 386.04 L558.83 387.28 L558.24 389.14 L558.24 392.24 L558.83 394.1 L559.43 395.34 L560.62 396.58 L561.81 397.2 M565.98 392.24 L565.98 397.2 M566.58 392.24 L566.58 397.2 M564.19 392.24 L568.37 392.24 M571.94 392.24 L579.09 392.24 L579.09 391 L578.49 389.76 L577.9 389.14 L576.71 388.52 L574.92 388.52 L573.13 389.14 L571.94 390.38 L571.34 392.24 L571.34 393.48 L571.94 395.34 L573.13 396.58 L574.92 397.2 L576.11 397.2 L577.9 396.58 L579.09 395.34 M578.49 392.24 L578.49 390.38 L577.9 389.14 M574.92 388.52 L573.73 389.14 L572.54 390.38 L571.94 392.24 L571.94 393.48 L572.54 395.34 L573.73 396.58 L574.92 397.2 M582.67 384.18 L586.84 397.2 M583.26 384.18 L586.84 395.34 M591.01 384.18 L586.84 397.2 M581.47 384.18 L585.05 384.18 M588.62 384.18 L592.2 384.18"/>
<path fill="none" stroke="#000" stroke-width="1.3" stroke-linecap="round" stroke-linejoin="round" d="M463.95 418.38 L463.95 431.4 M464.5 418.38 L467.8 429.54 M463.95 418.38 L467.8 431.4 M471.65 418.38 L467.8 431.4 M471.65 418.38 L471.65 431.4 M472.2 418.38 L472.2 431.4 M462.3 418.38 L464.5 418.38 M471.65 418.38 L473.85 418.38 M462.3 431.4 L465.6 431.4 M470 431.4 L473.85 431.4 M485.94 415.9 L476.04 435.74 M489.24 420.86 L489.79 421.48 L489.24 422.1 L488.69 421.48 L488.69 420.86 L489.24 419.62 L489.79 419 L491.44 418.38 L493.64 418.38 L495.29 419 L495.84 419.62 L496.39 420.86 L496.39 422.1 L495.84 423.34 L494.19 424.58 L491.44 425.82 L490.34 426.44 L489.24 427.68 L488.69 429.54 L488.69 431.4 M493.64 418.38 L494.74 419 L495.29 419.62 L495.84 420.86 L495.84 422.1 L495.29 423.34 L493.64 424.58 L491.44 425.82 M488.69 430.16 L489.24 429.54 L490.34 429.54 L493.09 430.78 L494.74 430.78 L495.84 430.16 L496.39 429.54 M490.34 429.54 L493.09 431.4 L495.29 431.4 L495.84 430.78 L496.39 429.54 L496.39 428.3 M517.83 418.38 L509.03 422.72 L517.83 427.06 M509.03 428.3 L517.83 428.3 M509.03 431.4 L517.83 431.4 M532.67 422.72 L529.37 435.74 M533.22 422.72 L529.92 435.74 M532.67 424.58 L532.12 428.3 L532.12 430.16 L533.22 431.4 L534.32 431.4 L535.42 430.78 L536.52 429.54 L537.62 427.68 M538.72 422.72 L537.07 429.54 L537.07 430.78 L537.62 431.4 L539.27 431.4 L540.37 430.16 L540.92 428.92 M539.27 422.72 L537.62 429.54 L537.62 430.78 L538.17 431.4 M561.26 418.38 L552.47 422.72 L561.26 427.06 M552.47 428.3 L561.26 428.3 M552.47 431.4 L561.26 431.4 M574.46 420.86 L575.01 421.48 L574.46 422.1 L573.91 421.48 L573.91 420.86 L574.46 419.62 L575.01 419 L576.66 418.38 L578.86 418.38 L580.51 419 L581.06 419.62 L581.61 420.86 L581.61 422.1 L581.06 423.34 L579.41 424.58 L576.66 425.82 L575.56 426.44 L574.46 427.68 L573.91 429.54 L573.91 431.4 M578.86 418.38 L579.96 419 L580.51 419.62 L581.06 420.86 L581.06 422.1 L580.51 423.34 L578.86 424.58 L576.66 425.82 M573.91 430.16 L574.46 429.54 L575.56 429.54 L578.31 430.78 L579.96 430.78 L581.06 430.16 L581.61 429.54 M575.56 429.54 L578.31 431.4 L580.51 431.4 L581.06 430.78 L581.61 429.54 L581.61 428.3 M586 418.38 L586 431.4 M586.55 418.38 L589.85 429.54 M586 418.38 L589.85 431.4 M593.7 418.38 L589.85 431.4 M593.7 418.38 L593.7 431.4 M594.25 418.38 L594.25 431.4 M584.35 418.38 L586.55 418.38 M593.7 418.38 L595.9 418.38 M584.35 431.4 L587.65 431.4 M592.05 431.4 L595.9 431.4"/>
<path fill="none" stroke="#000" stroke-width="1.3" stroke-linecap="round" stroke-linejoin="round" d="M388.26 527.36 L393.37 535.55 L393.37 543 M388.99 527.36 L394.1 535.55 L394.1 543 M399.21 527.36 L394.1 535.55 M386.8 527.36 L391.18 527.36 M396.29 527.36 L400.67 527.36 M391.18 543 L396.29 543"/>
<path fill="none" stroke="#000" stroke-width="1.3" stroke-linecap="round" stroke-linejoin="round" transform="translate(24.4 397.35) rotate(-90)" d="M9 -15.64 L9 0 M9.75 -15.64 L9.75 0 M9 -8.2 L7.5 -9.69 L6 -10.43 L4.5 -10.43 L2.25 -9.69 L0.75 -8.2 L0 -5.96 L0 -4.47 L0.75 -2.23 L2.25 -0.74 L4.5 0 L6 0 L7.5 -0.74 L9 -2.23 M4.5 -10.43 L3 -9.69 L1.5 -8.2 L0.75 -5.96 L0.75 -4.47 L1.5 -2.23 L3 -0.74 L4.5 0 M6.75 -15.64 L9.75 -15.64 M9 0 L12 0 M16.07 -20.08 L16.61 -19.59 L16.07 -19.11 L15.52 -19.59 L15.52 -20.08 L16.07 -21.05 L16.61 -21.53 L18.26 -22.01 L20.45 -22.01 L22.09 -21.53 L22.64 -21.05 L23.18 -20.08 L23.18 -19.11 L22.64 -18.14 L20.99 -17.17 L18.26 -16.2 L17.16 -15.72 L16.07 -14.75 L15.52 -13.3 L15.52 -11.85 M20.45 -22.01 L21.54 -21.53 L22.09 -21.05 L22.64 -20.08 L22.64 -19.11 L22.09 -18.14 L20.45 -17.17 L18.26 -16.2 M15.52 -12.81 L16.07 -13.3 L17.16 -13.3 L19.9 -12.33 L21.54 -12.33 L22.64 -12.81 L23.18 -13.3 M17.16 -13.3 L19.9 -11.85 L22.09 -11.85 L22.64 -12.33 L23.18 -13.3 L23.18 -14.27 M39.45 -10.43 L31.95 -10.43 L29.7 -9.69 L28.2 -7.45 L27.45 -5.21 L27.45 -2.98 L28.2 -1.49 L28.95 -0.74 L30.45 0 L31.95 0 L34.2 -0.74 L35.7 -2.98 L36.45 -5.21 L36.45 -7.45 L35.7 -8.94 L34.95 -9.69 L33.45 -10.43 M31.95 -10.43 L30.45 -9.69 L28.95 -7.45 L28.2 -5.21 L28.2 -2.23 L28.95 -0.74 M31.95 0 L33.45 -0.74 L34.95 -2.98 L35.7 -5.21 L35.7 -8.2 L34.95 -9.69 M34.95 -9.69 L39.45 -9.69 M55.95 -18.62 L42.45 5.21 M68.7 -15.64 L68.7 0 M69.45 -15.64 L69.45 0 M68.7 -8.2 L67.2 -9.69 L65.7 -10.43 L64.2 -10.43 L61.95 -9.69 L60.45 -8.2 L59.7 -5.96 L59.7 -4.47 L60.45 -2.23 L61.95 -0.74 L64.2 0 L65.7 0 L67.2 -0.74 L68.7 -2.23 M64.2 -10.43 L62.7 -9.69 L61.2 -8.2 L60.45 -5.96 L60.45 -4.47 L61.2 -2.23 L62.7 -0.74 L64.2 0 M66.45 -15.64 L69.45 -15.64 M68.7 0 L71.7 0 M76.95 -15.64 L76.95 0 M77.7 -15.64 L82.2 -2.23 M76.95 -15.64 L82.2 0 M87.45 -15.64 L82.2 0 M87.45 -15.64 L87.45 0 M88.2 -15.64 L88.2 0 M74.7 -15.64 L77.7 -15.64 M87.45 -15.64 L90.45 -15.64 M74.7 0 L79.2 0 M85.2 0 L90.45 0 M106.95 -18.62 L93.45 5.21 M119.7 -15.64 L119.7 0 M120.45 -15.64 L120.45 0 M119.7 -8.2 L118.2 -9.69 L116.7 -10.43 L115.2 -10.43 L112.95 -9.69 L111.45 -8.2 L110.7 -5.96 L110.7 -4.47 L111.45 -2.23 L112.95 -0.74 L115.2 0 L116.7 0 L118.2 -0.74 L119.7 -2.23 M115.2 -10.43 L113.7 -9.69 L112.2 -8.2 L111.45 -5.96 L111.45 -4.47 L112.2 -2.23 L113.7 -0.74 L115.2 0 M117.45 -15.64 L120.45 -15.64 M119.7 0 L122.7 0 M126.45 -15.64 L131.7 -7.45 L131.7 0 M127.2 -15.64 L132.45 -7.45 L132.45 0 M137.7 -15.64 L132.45 -7.45 M124.95 -15.64 L129.45 -15.64 M134.7 -15.64 L139.2 -15.64 M129.45 0 L134.7 0"/>
<path fill="none" stroke="#000" stroke-width="1.3" stroke-linecap="round" stroke-linejoin="round" transform="translate(24.4 241.95) rotate(-90)" d="M0 -18.62 L0 5.21 M0.75 -18.62 L0.75 5.21 M0 -18.62 L5.25 -18.62 M0 5.21 L5.25 5.21 M11.25 -10.43 L11.25 5.21 M12 -10.43 L12 5.21 M12 -8.2 L13.5 -9.69 L15 -10.43 L16.5 -10.43 L18.75 -9.69 L20.25 -8.2 L21 -5.96 L21 -4.47 L20.25 -2.23 L18.75 -0.74 L16.5 0 L15 0 L13.5 -0.74 L12 -2.23 M16.5 -10.43 L18 -9.69 L19.5 -8.2 L20.25 -5.96 L20.25 -4.47 L19.5 -2.23 L18 -0.74 L16.5 0 M9 -10.43 L12 -10.43 M9 5.21 L14.25 5.21 M27 -15.64 L27 0 M27.75 -15.64 L27.75 0 M27.75 -8.2 L29.25 -9.69 L30.75 -10.43 L32.25 -10.43 L34.5 -9.69 L36 -8.2 L36.75 -5.96 L36.75 -4.47 L36 -2.23 L34.5 -0.74 L32.25 0 L30.75 0 L29.25 -0.74 L27.75 -2.23 M32.25 -10.43 L33.75 -9.69 L35.25 -8.2 L36 -5.96 L36 -4.47 L35.25 -2.23 L33.75 -0.74 L32.25 0 M24.75 -15.64 L27.75 -15.64 M54 -18.62 L40.5 5.21 M68.25 -13.41 L69 -11.18 L69 -15.64 L68.25 -13.41 L66.75 -14.9 L64.5 -15.64 L63 -15.64 L60.75 -14.9 L59.25 -13.41 L58.5 -11.92 L57.75 -9.69 L57.75 -5.96 L58.5 -3.73 L59.25 -2.23 L60.75 -0.74 L63 0 L64.5 0 L66.75 -0.74 L68.25 -2.23 M63 -15.64 L61.5 -14.9 L60 -13.41 L59.25 -11.92 L58.5 -9.69 L58.5 -5.96 L59.25 -3.73 L60 -2.23 L61.5 -0.74 L63 0 M68.25 -5.96 L68.25 0 M69 -5.96 L69 0 M66 -5.96 L71.25 -5.96 M75.75 -5.96 L84.75 -5.96 L84.75 -7.45 L84 -8.94 L83.25 -9.69 L81.75 -10.43 L79.5 -10.43 L77.25 -9.69 L75.75 -8.2 L75 -5.96 L75 -4.47 L75.75 -2.23 L77.25 -0.74 L79.5 0 L81 0 L83.25 -0.74 L84.75 -2.23 M84 -5.96 L84 -8.2 L83.25 -9.69 M79.5 -10.43 L78 -9.69 L76.5 -8.2 L75.75 -5.96 L75.75 -4.47 L76.5 -2.23 L78 -0.74 L79.5 0 M89.25 -15.64 L94.5 0 M90 -15.64 L94.5 -2.23 M99.75 -15.64 L94.5 0 M87.75 -15.64 L92.25 -15.64 M96.75 -15.64 L101.25 -15.64 M108.75 -18.62 L108.75 5.21 M109.5 -18.62 L109.5 5.21 M104.25 -18.62 L109.5 -18.62 M104.25 5.21 L109.5 5.21"/>
</svg>
</body></html>
